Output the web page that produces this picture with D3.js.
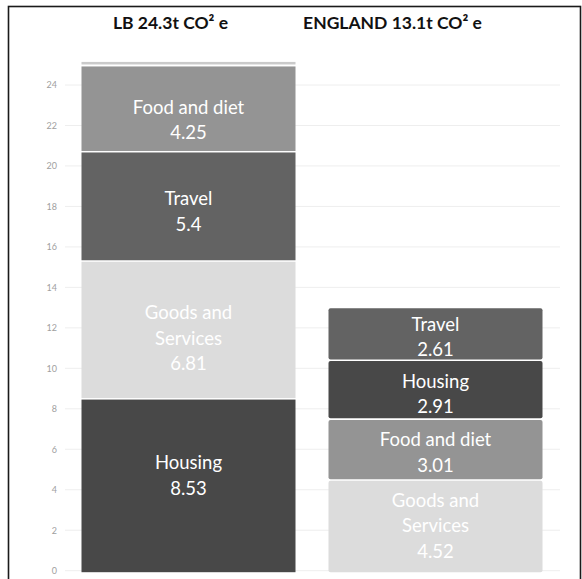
<!DOCTYPE html>
<html>
<head>
<meta charset="utf-8">
<script src="https://cdn.jsdelivr.net/npm/d3@7"></script>
<style>
  html, body { margin: 0; padding: 0; background: #fff; }
  svg { display: block; }
</style>
</head>
<body>
<svg id="chart" width="582" height="579"></svg>
<script>
// ---- data ----
const groups = ["LB", "ENGLAND"];
const groupTitles = ["LB 24.3t CO² e", "ENGLAND 13.1t CO² e"];
// stacked bottom -> top
const lbCategories = ["Housing", "Goods and Services", "Travel", "Food and diet", "Other"];
const lbValues = [8.53, 6.81, 5.4, 4.25, 0.15];
const englandCategories = ["Goods and Services", "Food and diet", "Housing", "Travel"];
const englandValues = [4.52, 3.01, 2.91, 2.61];
const yTicks = [0, 2, 4, 6, 8, 10, 12, 14, 16, 18, 20, 22, 24];

// styling (not data)
const colors = {
  "Housing": "#484848",
  "Goods and Services": "#dcdcdc",
  "Travel": "#636363",
  "Food and diet": "#949494",
  "Other": "#cacaca"
};
const labelLines = {
  "Housing": ["Housing"],
  "Goods and Services": ["Goods and", "Services"],
  "Travel": ["Travel"],
  "Food and diet": ["Food and diet"],
  "Other": null
};
const labelNudge = [[-9, 9, 6, 12, 0], [1, 4, 5, 4]];

const svg = d3.select("#chart");

// frame
svg.append("rect").attr("x", 8.5).attr("y", 6.5).attr("width", 572).attr("height", 600)
  .attr("fill", "none").attr("stroke", "#1a1a1a").attr("stroke-width", 1.6);

const x = d3.scaleBand().domain(groups).range([65, 559]).paddingInner(0.1336).paddingOuter(0.0668);
const y = d3.scaleLinear().domain([0, 24]).range([570.7, 85]);

// gridlines
svg.append("g").selectAll("line").data(yTicks).join("line")
  .attr("x1", 65).attr("x2", 560)
  .attr("y1", d => y(d)).attr("y2", d => y(d))
  .attr("stroke", "#eeeeee").attr("stroke-width", 1);

// y axis
const yAxis = d3.axisLeft(y).tickValues(yTicks).tickSize(0).tickPadding(0);
const gy = svg.append("g").attr("transform", "translate(57,0)").call(yAxis);
gy.select(".domain").remove();
gy.selectAll("text").attr("fill", "#a0a0a0").style("font-family", "Lato, 'Open Sans', sans-serif")
  .style("font-size", "9px").attr("dy", "0.32em");

function stack(cats, vals) {
  let acc = 0;
  return cats.map((c, i) => { const s = { cat: c, v: vals[i], y0: acc, y1: acc + vals[i] }; acc += vals[i]; return s; });
}
const stacks = [stack(lbCategories, lbValues), stack(englandCategories, englandValues)];

stacks.forEach((segs, gi) => {
  const g = groups[gi];
  const bx = x(g), bw = x.bandwidth();
  const gap = gi === 0 ? 1.5 : 1.6;
  const rx = gi === 0 ? 0 : 2;
  const grp = svg.append("g");
  grp.selectAll("rect").data(segs).join("rect")
    .attr("x", bx).attr("width", bw)
    .attr("y", d => y(d.y1) + (d.cat === "Other" ? 0 : gap))
    .attr("height", d => Math.max(0.5, y(d.y0) - y(d.y1) - (d.cat === "Other" ? 0.5 : gap) - (d.y0 === 0 ? -gap : 0)))
    .attr("rx", rx)
    .attr("fill", d => colors[d.cat]);

  segs.forEach((d, si) => {
    if (!labelLines[d.cat]) return;
    const lines = labelLines[d.cat].concat([String(d.v)]);
    const lh = 25.5;
    const cy = (y(d.y0) + y(d.y1)) / 2 + labelNudge[gi][si];
    const t = grp.append("text")
      .attr("text-anchor", "middle")
      .attr("fill", "#ffffff")
      .style("font-family", "Lato, 'Open Sans', sans-serif")
      .style("font-size", "18.5px");
    lines.forEach((ln, i) => {
      t.append("tspan").attr("x", bx + bw / 2)
        .attr("y", cy + (i - (lines.length - 1) / 2) * lh)
        .attr("dy", "0.35em").text(ln);
    });
  });
});

// titles
const titleX = [x("LB") + x.bandwidth() / 2 - 18, x("ENGLAND") + x.bandwidth() / 2 - 43];
svg.append("g").selectAll("text").data(groupTitles).join("text")
  .attr("x", (d, i) => titleX[i]).attr("y", 29)
  .attr("text-anchor", "middle")
  .attr("fill", "#111")
  .style("font-family", "Lato, 'Open Sans', sans-serif")
  .style("font-weight", "bold")
  .style("font-size", "17.5px")
  .text(d => d);
</script>
</body>
</html>
